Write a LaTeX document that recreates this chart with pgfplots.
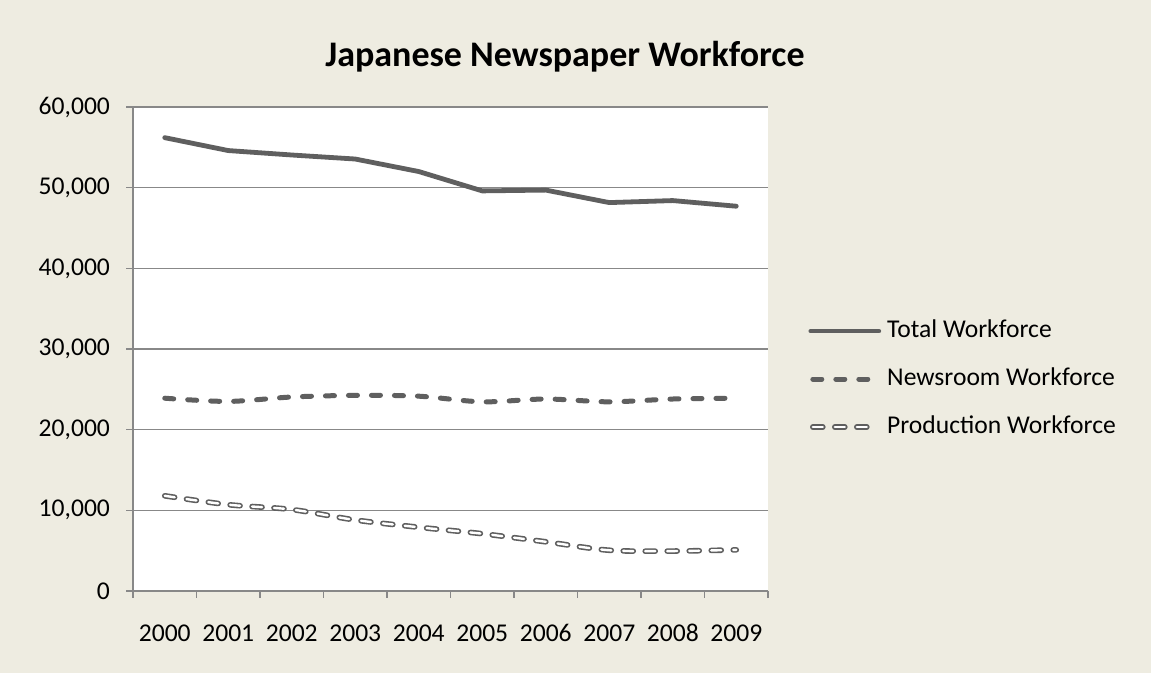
\documentclass[border=0pt]{standalone}
\usepackage{fontspec}
\setmainfont{Carlito}
\usepackage{pgfplots}
\pgfplotsset{compat=1.18}
\usepackage{pgfplotstable}

\definecolor{bgtan}{HTML}{EEECE1}
\definecolor{linegray}{HTML}{5F5F5F}
\definecolor{gridgray}{HTML}{888888}

\pgfplotsset{
    longlegend/.style={legend image code/.code={\draw[##1] (0pt,0pt) -- (34pt,0pt);}},
    dashlegend/.style={legend image code/.code={\draw[##1] (1pt,0pt) -- (30pt,0pt);}},
}

% workforce by year (index 0 = 2000)
\pgfplotstableread{
idx total newsroom production
0 56200 23900 11800
1 54600 23500 10700
2 54050 24050 10100
3 53550 24250 8800
4 52000 24150 7900
5 49600 23450 7100
6 49700 23800 6100
7 48150 23450 5050
8 48400 23800 4950
9 47700 23900 5100
}\workforce

\begin{document}
\begin{tikzpicture}
\fill[bgtan] (0,0) rectangle (575.5pt,336.5pt);
\node[font=\fontsize{18}{21}\selectfont\bfseries] at (282.5pt,308pt) {Japanese Newspaper Workforce};
\begin{axis}[
    at={(66.5pt,41pt)}, anchor=south west,
    scale only axis, width=317.5pt, height=242pt,
    axis background/.style={fill=white},
    xmin=-0.5, xmax=9.5, ymin=0, ymax=60000,
    axis x line*=bottom, axis y line*=left,
    axis line style={gridgray, line width=0.75pt, -},
    tick align=outside,
    xtick={0,...,9},
    xticklabels={2000,2001,2002,2003,2004,2005,2006,2007,2008,2009},
    major x tick style={draw=none},
    minor xtick={-0.5,0.5,...,9.5},
    minor tick length=3.5pt, major tick length=3.5pt,
    ytick={0,10000,...,60000},
    tick style={gridgray, line width=0.75pt},
    scaled y ticks=false,
    /pgf/number format/assume math mode=true,
    /pgf/number format/1000 sep={,},
    tick label style={font=\fontsize{12.8}{15}\selectfont, text=black},
    xticklabel style={anchor=base, yshift=-22pt},
    yticklabel style={anchor=east, xshift=-4.5pt},
    ymajorgrids,
    major grid style={gridgray, line width=0.75pt},
    legend style={draw=none, fill=none, at={(1,0.442)}, anchor=west,
        xshift=20pt, yshift=-1pt, inner sep=0pt, row sep=12pt, column sep=3pt,
        font=\fontsize{12.8}{15}\selectfont,
        nodes={inner sep=0pt, text height=9pt, text depth=3pt}},
    legend cell align=left,
]
\addplot[linegray, line width=2.4pt, line cap=round, line join=round, longlegend]
    table[x=idx, y=total] {\workforce};
\addplot[linegray, line width=2.5pt, line cap=round, smooth,
    dash pattern=on 4.5pt off 7pt, dashlegend]
    table[x=idx, y=newsroom] {\workforce};
\addplot[linegray, line width=0.8pt, double=white, double distance=1.2pt,
    line cap=round, smooth, dash pattern=on 5pt off 6pt, dashlegend]
    table[x=idx, y=production] {\workforce};
\legend{Total Workforce, Newsroom Workforce, Production Workforce}
\end{axis}
\end{tikzpicture}
\end{document}
